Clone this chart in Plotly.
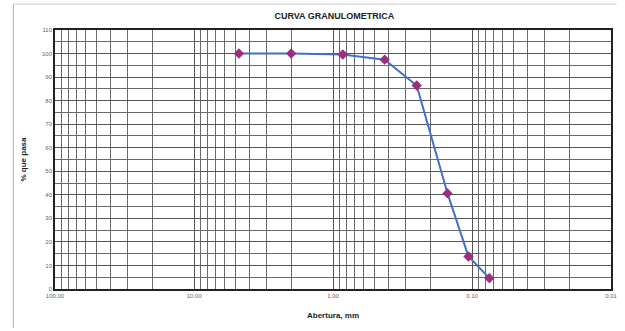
import plotly.graph_objects as go

aberturas_mm = [4.75, 2.00, 0.85, 0.425, 0.25, 0.15, 0.106, 0.075]
pct_pasa = [100.0, 100.0, 99.6, 97.4, 86.4, 40.6, 13.8, 4.6]

x_tickvals = [100, 10, 1, 0.1, 0.01]
x_ticktext = ["100.00", "10.00", "1.00", "0.10", "0.01"]
y_tickvals = list(range(0, 111, 10))

minor_x = [m * 10 ** e for e in (-2, -1, 0, 1) for m in range(2, 10)]

fig = go.Figure()
fig.add_trace(go.Scatter(
    x=aberturas_mm, y=pct_pasa, mode="lines+markers",
    line=dict(color="#4270c8", width=2),
    marker=dict(symbol="diamond", size=8, color="#9b2f7e"),
    showlegend=False,
))

fig.update_layout(
    width=625, height=331,
    margin=dict(l=55, r=8, t=30, b=42),
    paper_bgcolor="white", plot_bgcolor="white",
    title=dict(text="<b>CURVA GRANULOMETRICA</b>", x=0.535, xanchor="center",
               y=0.952, yanchor="middle",
               font=dict(family="Liberation Sans, Arial", size=9, color="#222")),
    font=dict(family="Liberation Sans, Arial", color="#555"),
)

fig.update_xaxes(
    type="log", range=[2, -2], autorange=False,
    tickvals=x_tickvals, ticktext=x_ticktext,
    tickfont=dict(size=6, color="#666"),
    showgrid=True, gridcolor="#555", gridwidth=1.2,
    minor=dict(tickvals=minor_x, showgrid=True, gridcolor="#6a6a6a", gridwidth=1, ticks=""),
    showline=True, linecolor="#222", linewidth=1.5, mirror=True,
    ticks="", ticklen=0,
    title=dict(text="<b>Abertura, mm</b>", font=dict(size=8, color="#222"), standoff=14),
    zeroline=False,
)
fig.update_yaxes(
    range=[0, 110], tickvals=y_tickvals,
    tickfont=dict(size=6, color="#666"),
    showgrid=True, gridcolor="#555", gridwidth=1.1,
    minor=dict(dtick=5, showgrid=True, gridcolor="#6a6a6a", gridwidth=1, ticks=""),
    showline=True, linecolor="#222", linewidth=1.5, mirror=True,
    ticks="", ticklen=0,
    title=dict(text="<b>% que pasa</b>", font=dict(size=8, color="#222"), standoff=14),
    zeroline=False,
)

fig.add_shape(type="line", xref="paper", yref="paper",
              x0=-0.075, x1=-0.075, y0=-0.15, y1=1.1,
              line=dict(color="#aaa", width=1))
fig.add_shape(type="line", xref="paper", yref="paper",
              x0=-0.075, x1=1.01, y0=1.1, y1=1.1,
              line=dict(color="#ccc", width=1))

fig.write_html("out.html")
